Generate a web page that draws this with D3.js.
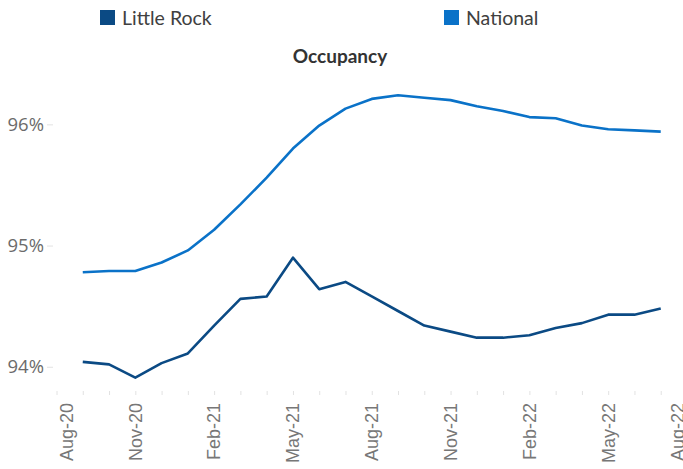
<!DOCTYPE html>
<html>
<head>
<meta charset="utf-8">
<script src="https://cdn.jsdelivr.net/npm/d3@7"></script>
<style>
  html, body { margin: 0; padding: 0; background: #fff; }
  svg { display: block; }
</style>
</head>
<body>
<svg width="683" height="469"></svg>
<script>
const svg = d3.select("svg");
const width = +svg.attr("width");
const height = +svg.attr("height");

// all months on the axis (ticks), data runs Sep-20 .. Jul-22
const months = ["Aug-20", "Sep-20", "Oct-20", "Nov-20", "Dec-20", "Jan-21", "Feb-21", "Mar-21",
  "Apr-21", "May-21", "Jun-21", "Jul-21", "Aug-21", "Sep-21", "Oct-21", "Nov-21", "Dec-21",
  "Jan-22", "Feb-22", "Mar-22", "Apr-22", "May-22", "Jun-22", "Jul-22", "Aug-22"];
const dataMonths = ["Sep-20", "Oct-20", "Nov-20", "Dec-20", "Jan-21", "Feb-21", "Mar-21",
  "Apr-21", "May-21", "Jun-21", "Jul-21", "Aug-21", "Sep-21", "Oct-21", "Nov-21", "Dec-21",
  "Jan-22", "Feb-22", "Mar-22", "Apr-22", "May-22", "Jun-22", "Jul-22"];
const labelMonths = ["Aug-20", "Nov-20", "Feb-21", "May-21", "Aug-21", "Nov-21", "Feb-22", "May-22", "Aug-22"];

const littleRock = [94.04, 94.02, 93.91, 94.03, 94.11, 94.34, 94.56, 94.58, 94.90, 94.64, 94.70, 94.58,
  94.46, 94.34, 94.29, 94.24, 94.24, 94.26, 94.32, 94.36, 94.43, 94.43, 94.48];
const national = [94.78, 94.79, 94.79, 94.86, 94.96, 95.13, 95.34, 95.56, 95.80, 95.99, 96.13, 96.21,
  96.24, 96.22, 96.20, 96.15, 96.11, 96.06, 96.05, 95.99, 95.96, 95.95, 95.94];
const yTicks = [94, 95, 96];

const seriesNames = ["Little Rock", "National"];
const colors = ["#0b4a84", "#0a72c8"];

const x = d3.scalePoint()
  .domain(months)
  .range([56.5, 687]);

const y = d3.scaleLinear()
  .domain([93.8, 96.3])
  .range([391, 88]);

// y axis: labels + short light ticks
const yAxis = svg.append("g")
  .attr("transform", "translate(53,0)")
  .call(d3.axisLeft(y).tickValues(yTicks).tickSize(6).tickPadding(3).tickFormat(d => d + "%"));
yAxis.select(".domain").remove();
yAxis.selectAll(".tick line").attr("stroke", "#e2e2e2");
yAxis.selectAll(".tick text")
  .attr("fill", "#6b6b6b")
  .style("font-family", "'Open Sans', sans-serif")
  .style("font-size", "18.5px");

// x axis: monthly ticks, quarterly rotated labels
const xAxis = svg.append("g")
  .attr("transform", "translate(0,391)")
  .call(d3.axisBottom(x).tickSize(4).tickFormat(""));
xAxis.select(".domain").remove();
xAxis.selectAll(".tick line").attr("stroke", "#e2e2e2");

// edge labels are pulled inside the plot, like the original
const labelMin = 67, labelMax = 678;
svg.append("g")
  .selectAll("text")
  .data(labelMonths)
  .enter()
  .append("text")
  .attr("transform", d => `translate(${Math.max(labelMin, Math.min(labelMax, x(d)))},403) rotate(-90)`)
  .attr("text-anchor", "end")
  .attr("dy", "0.35em")
  .attr("fill", "#777")
  .style("font-family", "'Liberation Sans', Arial, sans-serif")
  .style("font-size", "18px")
  .text(d => d);

// lines
const line = d3.line()
  .x((d, i) => x(dataMonths[i]))
  .y(d => y(d));

[littleRock, national].forEach((vals, i) => {
  svg.append("path")
    .datum(vals)
    .attr("fill", "none")
    .attr("stroke", colors[i])
    .attr("stroke-width", 2.6)
    .attr("stroke-linejoin", "round")
    .attr("d", line);
});

// title
svg.append("text")
  .attr("x", 340)
  .attr("y", 63)
  .attr("text-anchor", "middle")
  .attr("fill", "#333")
  .style("font-family", "Lato, sans-serif")
  .style("font-weight", "bold")
  .style("font-size", "19px")
  .text("Occupancy");

// legend
const legendX = [100, 444];
const legend = svg.append("g")
  .selectAll("g")
  .data(seriesNames)
  .enter()
  .append("g")
  .attr("transform", (d, i) => `translate(${legendX[i]},10)`);

legend.append("rect")
  .attr("width", 15)
  .attr("height", 15)
  .attr("fill", (d, i) => colors[i]);

legend.append("text")
  .attr("x", 22)
  .attr("y", 14.5)
  .attr("fill", "#404040")
  .style("font-family", "Lato, sans-serif")
  .style("font-size", "19.5px")
  .text(d => d);
</script>
</body>
</html>
